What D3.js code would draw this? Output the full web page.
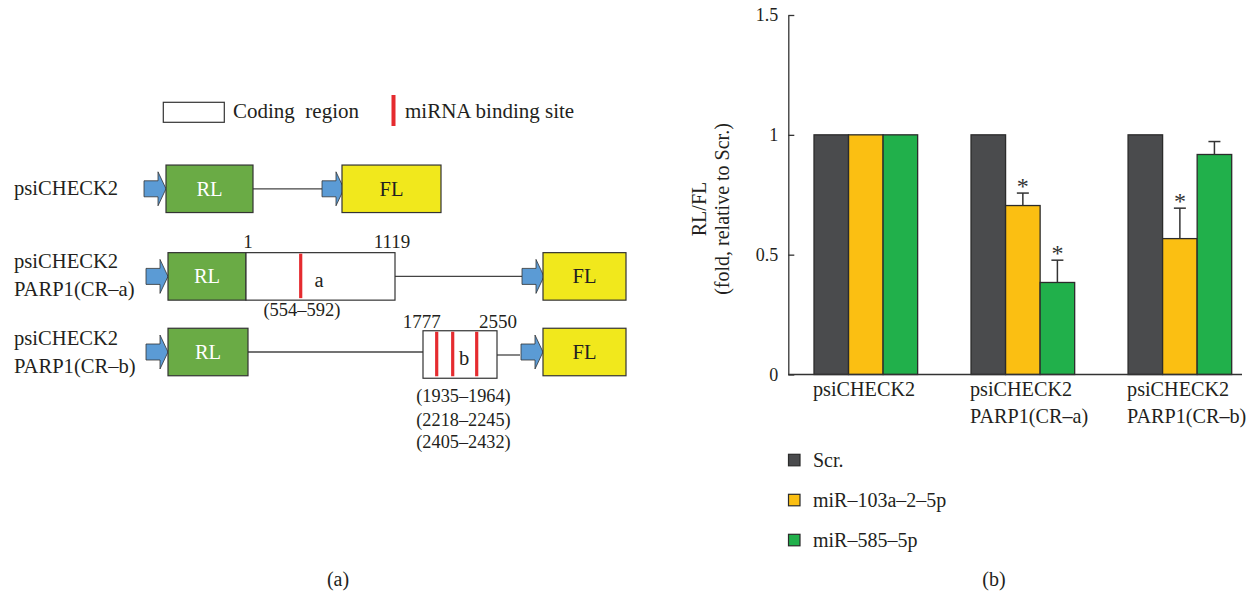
<!DOCTYPE html>
<html>
<head>
<meta charset="utf-8">
<script src="https://cdn.jsdelivr.net/npm/d3@7"></script>
<style>
  body { margin: 0; background: #fff; }
  svg { font-family: "Liberation Serif", "DejaVu Serif", serif; fill: #231f20; }
  text { white-space: pre; }
</style>
</head>
<body>
<div id="chart"></div>
<script>
// ---- data: panel (b) ----
const groups = ["g1", "g2", "g3"];
const groupLabels = [["psiCHECK2"], ["psiCHECK2", "PARP1(CR–a)"], ["psiCHECK2", "PARP1(CR–b)"]];
const seriesNames = ["Scr.", "miR–103a–2–5p", "miR–585–5p"];
const scrValues = [1, 1, 1];
const mir103Values = [1, 0.705, 0.567];
const mir585Values = [1, 0.384, 0.918];
const mir103Err = [0, 0.052, 0.127];
const mir585Err = [0, 0.093, 0.054];
const mir103Sig = [false, true, true];
const mir585Sig = [false, true, false];
const yTicks = [0, 0.5, 1, 1.5];

// ---- data: panel (a) ----
const constructNames = [["psiCHECK2"], ["psiCHECK2", "PARP1(CR–a)"], ["psiCHECK2", "PARP1(CR–b)"]];
const regionA = { start: "1", end: "1119", name: "a", sites: ["(554–592)"] };
const regionB = { start: "1777", end: "2550", name: "b", sites: ["(1935–1964)", "(2218–2245)", "(2405–2432)"] };

const colors = ["#4a4b4d", "#fbbf12", "#21b04b"];
const W = 1258, H = 595;

const svg = d3.select("#chart").append("svg")
  .attr("width", W).attr("height", H);

// =============== panel (b): bar chart ===============
const y = d3.scaleLinear().domain([0, 1.5]).range([374.5, 15]);
const x0 = d3.scaleBand().domain(groups).range([814, 1231.7]).paddingInner(0.34).paddingOuter(0);
const x1 = d3.scaleBand().domain(seriesNames).range([0, x0.bandwidth()]);

const rows = groups.map((g, i) => [
  { g, s: seriesNames[0], v: scrValues[i], e: 0, sig: false },
  { g, s: seriesNames[1], v: mir103Values[i], e: mir103Err[i], sig: mir103Sig[i] },
  { g, s: seriesNames[2], v: mir585Values[i], e: mir585Err[i], sig: mir585Sig[i] }
]).flat();

const b = svg.append("g");

b.selectAll("rect.bar")
  .data(rows)
  .join("rect")
  .attr("class", "bar")
  .attr("x", d => x0(d.g) + x1(d.s))
  .attr("y", d => y(d.v))
  .attr("width", x1.bandwidth())
  .attr("height", d => y(0) - y(d.v))
  .attr("fill", d => colors[seriesNames.indexOf(d.s)])
  .attr("stroke", "#2b2b2b")
  .attr("stroke-width", 1.3);

// error bars (upper only)
const errRows = rows.filter(d => d.e > 0);
const eb = b.append("g").attr("stroke", "#333").attr("stroke-width", 1.5);
eb.selectAll("line.stem").data(errRows).join("line")
  .attr("x1", d => x0(d.g) + x1(d.s) + x1.bandwidth() / 2)
  .attr("x2", d => x0(d.g) + x1(d.s) + x1.bandwidth() / 2)
  .attr("y1", d => y(d.v))
  .attr("y2", d => y(d.v + d.e));
eb.selectAll("line.cap").data(errRows).join("line")
  .attr("x1", d => x0(d.g) + x1(d.s) + x1.bandwidth() / 2 - 6)
  .attr("x2", d => x0(d.g) + x1(d.s) + x1.bandwidth() / 2 + 6)
  .attr("y1", d => y(d.v + d.e))
  .attr("y2", d => y(d.v + d.e));

b.selectAll("text.star").data(rows.filter(d => d.sig)).join("text")
  .attr("x", d => x0(d.g) + x1(d.s) + x1.bandwidth() / 2)
  .attr("y", d => y(d.v + d.e) + 1)
  .attr("text-anchor", "middle")
  .attr("font-size", 24)
  .attr("fill", "#333")
  .text("*");

// y axis, ticks pointing inward
const yAxis = b.append("g")
  .attr("transform", "translate(788.3,0)")
  .call(d3.axisLeft(y).tickValues(yTicks).tickFormat(d3.format("")).tickSizeInner(-6).tickSizeOuter(0).tickPadding(10));
yAxis.select(".domain").attr("stroke", "#333").attr("stroke-width", 1.3);
yAxis.selectAll(".tick line").attr("stroke", "#333").attr("stroke-width", 1.3);
yAxis.selectAll(".tick text")
  .attr("font-family", "Liberation Serif")
  .attr("font-size", 18)
  .attr("fill", "#231f20");

// x baseline
b.append("line")
  .attr("x1", 788.3).attr("x2", 1242)
  .attr("y1", y(0)).attr("y2", y(0))
  .attr("stroke", "#333").attr("stroke-width", 1.3);

// group labels (left aligned at the group start)
groups.forEach((g, i) => {
  groupLabels[i].forEach((t, j) => {
    b.append("text")
      .attr("x", x0(g) - 1)
      .attr("y", 396 + j * 27)
      .attr("font-size", 20.2)
      .text(t);
  });
});

// y title
const yt = b.append("g").attr("transform", "translate(706,209) rotate(-90)");
yt.append("text").attr("text-anchor", "middle").attr("font-size", 20).text("RL/FL");
yt.append("text").attr("text-anchor", "middle").attr("y", 23).attr("font-size", 20).text("(fold, relative to Scr.)");

// legend
seriesNames.forEach((s, i) => {
  b.append("rect")
    .attr("x", 788.5).attr("y", 454.3 + i * 40)
    .attr("width", 11.5).attr("height", 11.5)
    .attr("fill", colors[i]).attr("stroke", "#2b2b2b").attr("stroke-width", 1.2);
  b.append("text")
    .attr("x", 813).attr("y", 467 + i * 40)
    .attr("font-size", 20)
    .text(s);
});

svg.append("text").attr("x", 994).attr("y", 586).attr("text-anchor", "middle").attr("font-size", 20).text("(b)");
svg.append("text").attr("x", 338).attr("y", 586).attr("text-anchor", "middle").attr("font-size", 20).text("(a)");

// =============== panel (a): construct diagram ===============
const a = svg.append("g");
const RL_COLOR = "#6aab45", FL_COLOR = "#f1e81c", ARROW = "#5b9bd5", SITE = "#e52b2f";

// schematic layout (pixels)
const rowsA = [
  { cy: 188.8, rl: [166, 253], links: [[253, 322]], arrows: [144, 322], fl: [342, 441] },
  { cy: 276.4, rl: [168, 246], links: [[395, 522]], arrows: [146, 522], fl: [543, 626], region: [246, 395] },
  { cy: 352, rl: [168, 248], links: [[248, 423], [497, 520]], arrows: [146, 521], fl: [543, 626], region: [423, 497], regionDy: 2.5 }
];
const siteX = [[300.7], [436.7, 452.7, 476.7]];

function arrowPath(x, cy) {
  return `M${x},${cy - 8} L${x + 14},${cy - 8} L${x + 14},${cy - 17} L${x + 22},${cy} L${x + 14},${cy + 17} L${x + 14},${cy + 8} L${x},${cy + 8} Z`;
}

rowsA.forEach((r, i) => {
  const h = 47.5;
  r.links.forEach(l => {
    const ly = r.cy + (i === 2 && l[0] > 400 ? 3 : 0);
    a.append("line").attr("x1", l[0]).attr("x2", l[1]).attr("y1", ly).attr("y2", ly)
      .attr("stroke", "#444").attr("stroke-width", 1.3);
  });
  r.arrows.forEach(ax => {
    a.append("path").attr("d", arrowPath(ax, r.cy)).attr("fill", ARROW).attr("stroke", "#333").attr("stroke-width", 0.8);
  });
  a.append("rect").attr("x", r.rl[0]).attr("y", r.cy - h / 2).attr("width", r.rl[1] - r.rl[0]).attr("height", h)
    .attr("fill", RL_COLOR).attr("stroke", "#333").attr("stroke-width", 1.2);
  a.append("text").attr("x", (r.rl[0] + r.rl[1]) / 2).attr("y", r.cy + 7).attr("text-anchor", "middle")
    .attr("font-size", 20.5).attr("fill", "#fff").text("RL");
  a.append("rect").attr("x", r.fl[0]).attr("y", r.cy - h / 2).attr("width", r.fl[1] - r.fl[0]).attr("height", h)
    .attr("fill", FL_COLOR).attr("stroke", "#333").attr("stroke-width", 1.2);
  a.append("text").attr("x", (r.fl[0] + r.fl[1]) / 2).attr("y", r.cy + 7).attr("text-anchor", "middle")
    .attr("font-size", 20.5).text("FL");
  if (r.region) {
    const dy = r.regionDy || 0;
    a.append("rect").attr("x", r.region[0]).attr("y", r.cy - h / 2 + dy).attr("width", r.region[1] - r.region[0]).attr("height", h)
      .attr("fill", "#fff").attr("stroke", "#333").attr("stroke-width", 1.2);
    siteX[i - 1].forEach(sx => {
      a.append("line").attr("x1", sx).attr("x2", sx).attr("y1", r.cy - h / 2 + dy + 1).attr("y2", r.cy + h / 2 + dy - 2)
        .attr("stroke", SITE).attr("stroke-width", 3.2);
    });
  }
  constructNames[i].forEach((t, j) => {
    const n = constructNames[i].length;
    a.append("text").attr("x", 14).attr("y", n === 1 ? 195 : [268, 296, 345, 373][(i - 1) * 2 + j])
      .attr("font-size", 20.6).text(t);
  });
});

// region labels
a.append("text").attr("x", 248).attr("y", 248).attr("text-anchor", "middle").attr("font-size", 19).text(regionA.start);
a.append("text").attr("x", 392).attr("y", 248).attr("text-anchor", "middle").attr("font-size", 19).text(regionA.end);
a.append("text").attr("x", 319).attr("y", 287).attr("text-anchor", "middle").attr("font-size", 20.5).text(regionA.name);
a.append("text").attr("x", 302).attr("y", 316).attr("text-anchor", "middle").attr("font-size", 18.5).text(regionA.sites[0]);

a.append("text").attr("x", 421.7).attr("y", 328).attr("text-anchor", "middle").attr("font-size", 19).text(regionB.start);
a.append("text").attr("x", 498).attr("y", 328).attr("text-anchor", "middle").attr("font-size", 19).text(regionB.end);
a.append("text").attr("x", 464).attr("y", 365).attr("text-anchor", "middle").attr("font-size", 20.5).text(regionB.name);
regionB.sites.forEach((t, k) => {
  a.append("text").attr("x", 463.5).attr("y", [402, 426, 448][k]).attr("text-anchor", "middle").attr("font-size", 18.3).text(t);
});

// legend (a)
a.append("rect").attr("x", 163.3).attr("y", 102.3).attr("width", 61).attr("height", 20)
  .attr("fill", "#fff").attr("stroke", "#333").attr("stroke-width", 1.2);
a.append("text").attr("x", 233).attr("y", 118).attr("font-size", 21).text("Coding  region");
a.append("rect").attr("x", 391.5).attr("y", 95).attr("width", 4).attr("height", 31).attr("fill", SITE);
a.append("text").attr("x", 405).attr("y", 118).attr("font-size", 21).text("miRNA binding site");
</script>
</body>
</html>
